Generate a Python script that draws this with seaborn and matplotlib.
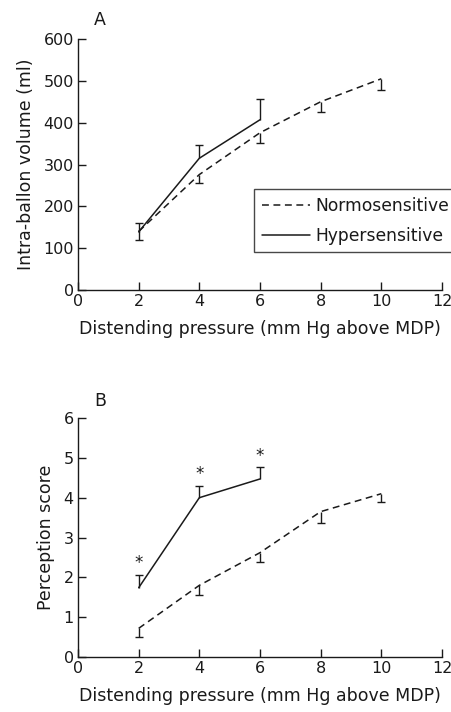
import numpy as np
import pandas as pd
import matplotlib
matplotlib.use("Agg")
import matplotlib.pyplot as plt
import seaborn as sns

sns.set_theme(style="ticks")
plt.rcParams['font.family'] = ['DejaVu Sans']

# -----------------------------
# Data
# -----------------------------
pressure_normo = [2, 4, 6, 8, 10]
pressure_hyper = [2, 4, 6]

# Panel A: intra-balloon volume (ml)
vol_normo = [140, 276, 376, 450, 505]
vol_normo_err = [20, 20, 24, 25, 26]     # drawn downward only
vol_hyper = [139, 315, 407]
vol_hyper_err = [21, 31, 50]             # drawn upward only

# Panel B: perception score
score_normo = [0.72, 1.8, 2.62, 3.65, 4.1]
score_normo_err = [0.22, 0.25, 0.24, 0.28, 0.22]
score_hyper = [1.74, 4.0, 4.47]
score_hyper_err = [0.32, 0.29, 0.29]

x_ticks = [0, 2, 4, 6, 8, 10, 12]
vol_ticks = [0, 100, 200, 300, 400, 500, 600]
score_ticks = [0, 1, 2, 3, 4, 5, 6]

groups = ['Normosensitive', 'Hypersensitive']

df_a = pd.DataFrame({
    'pressure': pressure_normo + pressure_hyper,
    'value': vol_normo + vol_hyper,
    'group': [groups[0]] * len(pressure_normo) + [groups[1]] * len(pressure_hyper),
})
df_b = pd.DataFrame({
    'pressure': pressure_normo + pressure_hyper,
    'value': score_normo + score_hyper,
    'group': [groups[0]] * len(pressure_normo) + [groups[1]] * len(pressure_hyper),
})

INK = '#1a1a1a'

fig = plt.figure(figsize=(4.51, 7.12), dpi=100)
ax_a = fig.add_axes([0.173, 0.5927, 0.807, 0.3525])
ax_b = fig.add_axes([0.173, 0.0772, 0.807, 0.3357])

dash_style = {groups[0]: (4.5, 3), groups[1]: ''}


def one_sided_bars(ax, x, y, err, sign):
    # vertical bar from the mean to the end, cap only at the far end
    x = np.asarray(x, dtype=float)
    y = np.asarray(y, dtype=float)
    err = np.asarray(err, dtype=float)
    ends = y + sign * err
    ax.vlines(x, np.minimum(y, ends), np.maximum(y, ends), colors=INK, linewidth=1.0)
    ax.plot(x, ends, linestyle='none', marker='_', markersize=6,
            markeredgewidth=1.0, color=INK)
    return ends


def draw_panel(ax, df, normo_err, hyper_err, ylim, yticks, ylabel):
    sns.lineplot(data=df, x='pressure', y='value', hue='group', style='group',
                 palette={groups[0]: INK, groups[1]: INK},
                 dashes=dash_style, linewidth=1.1, ax=ax, legend=True)
    n = df[df['group'] == groups[0]]
    h = df[df['group'] == groups[1]]
    one_sided_bars(ax, n['pressure'], n['value'], normo_err, -1)
    tops = one_sided_bars(ax, h['pressure'], h['value'], hyper_err, +1)
    ax.set_xlim(0, 12)
    ax.set_ylim(*ylim)
    ax.set_xticks(x_ticks)
    ax.set_yticks(yticks)
    ax.tick_params(direction='in', length=6, width=1.0, labelsize=11.5,
                   colors=INK, pad=3)
    for side in ['top', 'right']:
        ax.spines[side].set_visible(False)
    for side in ['left', 'bottom']:
        ax.spines[side].set_linewidth(1.0)
        ax.spines[side].set_color(INK)
    ax.set_xlabel('Distending pressure (mm Hg above MDP)', fontsize=12.5,
                  color=INK, labelpad=8)
    ax.set_ylabel(ylabel, fontsize=12.5, color=INK, labelpad=6)
    return h, tops


# Panel A
draw_panel(ax_a, df_a, vol_normo_err, vol_hyper_err, (0, 600), vol_ticks,
           'Intra-ballon volume (ml)')
handles, labels = ax_a.get_legend_handles_labels()
leg = ax_a.legend(handles, labels, loc='upper left', bbox_to_anchor=(0.4835, 0.402),
                  fontsize=12.3, frameon=True, fancybox=False, handlelength=2.8,
                  borderpad=0.45, labelspacing=0.7, handletextpad=0.35,
                  borderaxespad=0.0)
leg.get_frame().set_edgecolor(INK)
leg.get_frame().set_linewidth(1.0)
for t in leg.get_texts():
    t.set_color(INK)
fig.text(100 / 451, 1 - 20 / 712, 'A', fontsize=12.5, ha='center', va='center',
         color=INK)

# Panel B
h_b, tops_b = draw_panel(ax_b, df_b, score_normo_err, score_hyper_err, (0, 6),
                         score_ticks, 'Perception score')
ax_b.get_legend().remove()
for xp, yp in zip(h_b['pressure'], tops_b):
    ax_b.annotate('*', xy=(xp, yp), xytext=(0, 2), textcoords='offset points',
                  ha='center', va='bottom', fontsize=12, color=INK)
fig.text(100 / 451, 1 - 401 / 712, 'B', fontsize=12.5, ha='center', va='center',
         color=INK)

fig.savefig('out.png', dpi=100, facecolor='white')
